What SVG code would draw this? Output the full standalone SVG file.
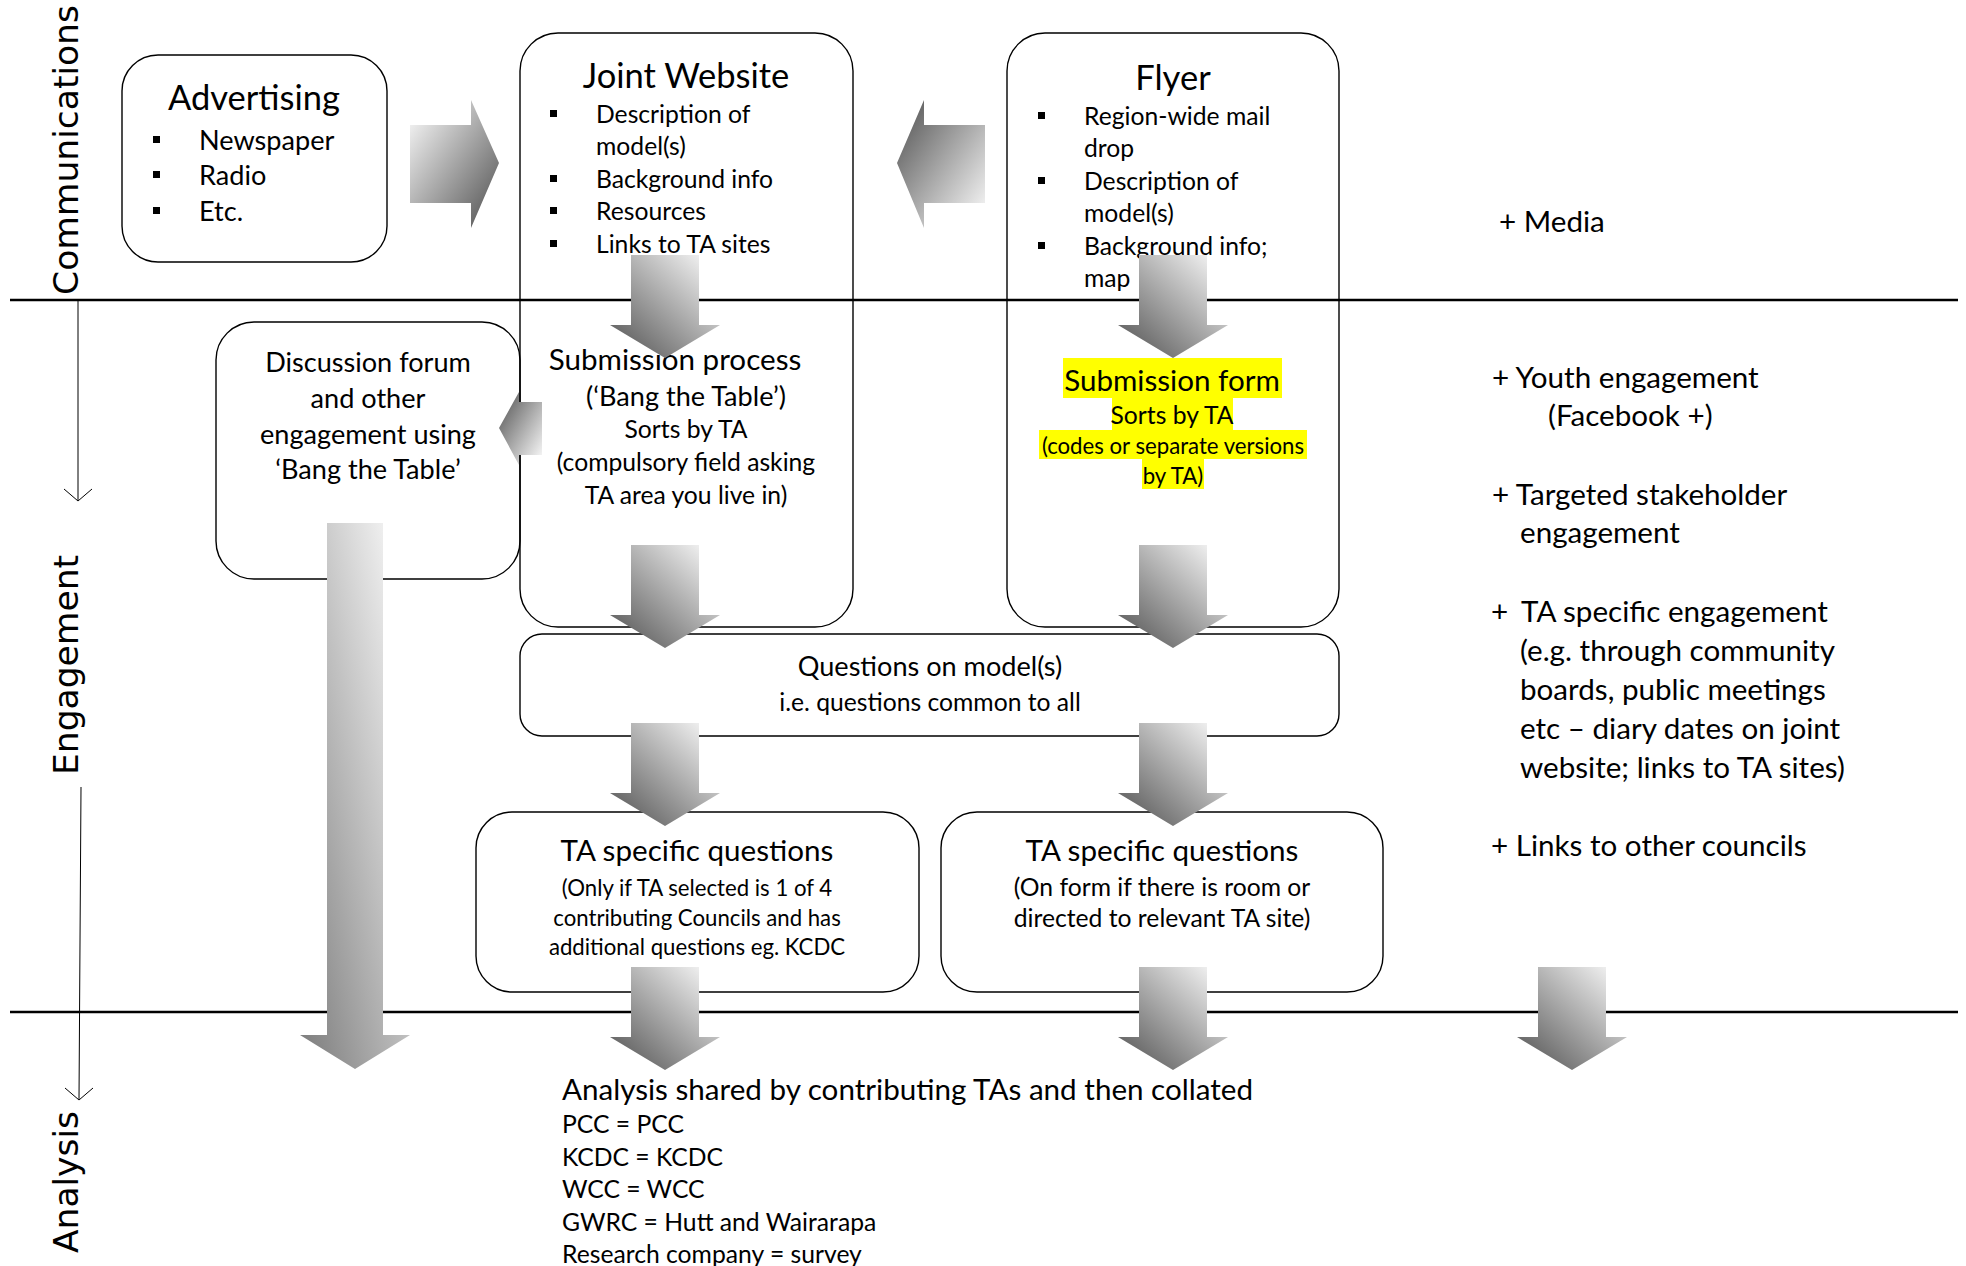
<svg xmlns="http://www.w3.org/2000/svg" width="1966" height="1266" viewBox="0 0 1966 1266">
<style>
.box{fill:none;stroke:#000;stroke-width:1.4}
.sep{stroke:#000;stroke-width:2.5}
.axl{stroke:#000;stroke-width:1;fill:none}
.t{font-family:Lato,'Liberation Sans',sans-serif;fill:#000}
.c{text-anchor:middle}
.p14{font-size:34.5px}
.p12{font-size:29.6px}
.p11{font-size:27.1px}
.p10{font-size:24.7px}
.p9{font-size:22.2px}
.ax{font-family:'DejaVu Sans',Verdana,sans-serif;font-size:34.5px;text-anchor:middle;fill:#000}
.hl{fill:#ffff00}
</style>
<defs>
<linearGradient id="gR" x1="0" y1="0" x2="1" y2="1"><stop offset="0" stop-color="#ffffff"/><stop offset="1" stop-color="#4d4d4d"/></linearGradient>
<linearGradient id="gL" x1="0" y1="0" x2="1" y2="1"><stop offset="0" stop-color="#4d4d4d"/><stop offset="1" stop-color="#ffffff"/></linearGradient>
<linearGradient id="gD" x1="1" y1="0" x2="0" y2="1"><stop offset="0" stop-color="#ffffff"/><stop offset="1" stop-color="#4d4d4d"/></linearGradient>
<linearGradient id="gBig" x1="1" y1="0" x2="0" y2="1"><stop offset="0" stop-color="#ffffff"/><stop offset="1" stop-color="#7a7a7a"/></linearGradient>
<path id="dArrow" d="M-34,0 H34 V70 H55 L0,103 L-55,70 H-34 Z"/>
</defs>

<g id="lanes">
<line class="sep" x1="10" y1="300" x2="1958" y2="300"/>
<line class="sep" x1="10" y1="1012" x2="1958" y2="1012"/>
<line class="axl" x1="78" y1="300" x2="78" y2="500"/>
<polyline class="axl" points="64,489 78,501 92,489"/>
<line class="axl" x1="81" y1="787" x2="79" y2="1099"/>
<polyline class="axl" points="65,1088 79,1100 93,1088"/>
<text class="ax" transform="translate(78,150) rotate(-90)">Communications</text>
<text class="ax" transform="translate(78,665) rotate(-90)">Engagement</text>
<text class="ax" transform="translate(78,1182) rotate(-90)">Analysis</text>
</g>

<g id="advertising">
<rect class="box" x="122" y="55" width="265" height="207" rx="36" ry="36"/>
<text class="t c p14" x="254" y="110">Advertising</text>
<rect x="153" y="136" width="7" height="7"/>
<rect x="153" y="171" width="7" height="7"/>
<rect x="153" y="207" width="7" height="7"/>
<text class="t p11" x="199" y="150">Newspaper</text>
<text class="t p11" x="199" y="185">Radio</text>
<text class="t p11" x="199" y="221">Etc.</text>
</g>

<g id="joint-website">
<rect class="box" x="520" y="33" width="333" height="594" rx="38" ry="38"/>
<text class="t c p14" x="686" y="88">Joint Website</text>
<rect x="550" y="110" width="7" height="7"/>
<rect x="550" y="175" width="7" height="7"/>
<rect x="550" y="207" width="7" height="7"/>
<rect x="550" y="240" width="7" height="7"/>
<text class="t p10" x="596" y="123">Description of</text>
<text class="t p10" x="596" y="155">model(s)</text>
<text class="t p10" x="596" y="188">Background info</text>
<text class="t p10" x="596" y="220">Resources</text>
<text class="t p10" x="596" y="253">Links to TA sites</text>
<text class="t c p12" x="675" y="370">Submission process</text>
<text class="t c p11" x="686" y="406">(‘Bang the Table’)</text>
<text class="t c p10" x="686" y="438">Sorts by TA</text>
<text class="t c p10" x="686" y="471">(compulsory field asking</text>
<text class="t c p10" x="686" y="504">TA area you live in)</text>
</g>

<g id="flyer">
<rect class="box" x="1007" y="33" width="332" height="594" rx="38" ry="38"/>
<text class="t c p14" x="1173" y="90">Flyer</text>
<rect x="1038" y="112" width="7" height="7"/>
<rect x="1038" y="177" width="7" height="7"/>
<rect x="1038" y="242" width="7" height="7"/>
<text class="t p10" x="1084" y="125">Region-wide mail</text>
<text class="t p10" x="1084" y="157">drop</text>
<text class="t p10" x="1084" y="190">Description of</text>
<text class="t p10" x="1084" y="222">model(s)</text>
<text class="t p10" x="1084" y="255">Background info;</text>
<text class="t p10" x="1084" y="287">map</text>
<rect class="hl" x="1063" y="358" width="219" height="40"/>
<rect class="hl" x="1112" y="398" width="121" height="32"/>
<rect class="hl" x="1039" y="430" width="268" height="29"/>
<rect class="hl" x="1142" y="459" width="62" height="30"/>
<text class="t c p12" x="1172" y="391">Submission form</text>
<text class="t c p10" x="1172" y="424">Sorts by TA</text>
<text class="t c p9" x="1173" y="454">(codes or separate versions</text>
<text class="t c p9" x="1173" y="484">by TA)</text>
</g>

<g id="discussion-forum">
<rect class="box" x="216" y="322" width="304" height="257" rx="38" ry="38"/>
<text class="t c p11" x="368" y="372">Discussion forum</text>
<text class="t c p11" x="368" y="408">and other</text>
<text class="t c p11" x="368" y="444">engagement using</text>
<text class="t c p11" x="368" y="479">‘Bang the Table’</text>
</g>

<g id="questions-model">
<rect class="box" x="520" y="634" width="819" height="102" rx="22" ry="22"/>
<text class="t c p11" x="930" y="676">Questions on model(s)</text>
<text class="t c p10" x="930" y="711">i.e. questions common to all</text>
</g>

<g id="ta-questions-web">
<rect class="box" x="476" y="812" width="443" height="180" rx="36" ry="36"/>
<text class="t c p12" x="697" y="861">TA specific questions</text>
<text class="t c p9" x="697" y="896">(Only if TA selected is 1 of 4</text>
<text class="t c p9" x="697" y="926">contributing Councils and has</text>
<text class="t c p9" x="697" y="955">additional questions eg. KCDC</text>
</g>

<g id="ta-questions-form">
<rect class="box" x="941" y="812" width="442" height="180" rx="36" ry="36"/>
<text class="t c p12" x="1162" y="861">TA specific questions</text>
<text class="t c p10" x="1162" y="896">(On form if there is room or</text>
<text class="t c p10" x="1162" y="927">directed to relevant TA site)</text>
</g>

<g id="analysis">
<text class="t p12" x="562" y="1100">Analysis shared by contributing TAs and then collated</text>
<text class="t p10" x="562" y="1133">PCC = PCC</text>
<text class="t p10" x="562" y="1166">KCDC = KCDC</text>
<text class="t p10" x="562" y="1198">WCC = WCC</text>
<text class="t p10" x="562" y="1231">GWRC = Hutt and Wairarapa</text>
<text class="t p10" x="562" y="1263">Research company = survey</text>
</g>

<g id="extras">
<text class="t p12" x="1499" y="232">+ Media</text>
<text class="t p12" x="1492" y="388">+ Youth engagement</text>
<text class="t p12" x="1548" y="426">(Facebook +)</text>
<text class="t p12" x="1492" y="505">+ Targeted stakeholder</text>
<text class="t p12" x="1520" y="543">engagement</text>
<text class="t p12" y="622"><tspan x="1491">+</tspan><tspan x="1521">TA specific engagement</tspan></text>
<text class="t p12" x="1520" y="661">(e.g. through community</text>
<text class="t p12" x="1520" y="700">boards, public meetings</text>
<text class="t p12" x="1520" y="739">etc – diary dates on joint</text>
<text class="t p12" x="1520" y="778">website; links to TA sites)</text>
<text class="t p12" x="1491" y="856">+ Links to other councils</text>
</g>

<g id="connectors">
<polygon fill="url(#gR)" points="410,125 471,125 471,100 499,163 471,228 471,203 410,203"/>
<polygon fill="url(#gL)" points="985,125 924,125 924,100 897,163 924,228 924,203 985,203"/>
<polygon fill="url(#gL)" points="542,402 519,402 519,392 499,428 519,465 519,455 542,455"/>
<path fill="url(#gBig)" d="M327,523 H383 V1035 H410 L355,1069 L300,1035 H327 Z"/>
<use href="#dArrow" fill="url(#gD)" transform="translate(665,255)"/>
<use href="#dArrow" fill="url(#gD)" transform="translate(1173,255)"/>
<use href="#dArrow" fill="url(#gD)" transform="translate(665,545)"/>
<use href="#dArrow" fill="url(#gD)" transform="translate(1173,545)"/>
<use href="#dArrow" fill="url(#gD)" transform="translate(665,723)"/>
<use href="#dArrow" fill="url(#gD)" transform="translate(1173,723)"/>
<use href="#dArrow" fill="url(#gD)" transform="translate(665,967)"/>
<use href="#dArrow" fill="url(#gD)" transform="translate(1173,967)"/>
<use href="#dArrow" fill="url(#gD)" transform="translate(1572,967)"/>
</g>
</svg>
